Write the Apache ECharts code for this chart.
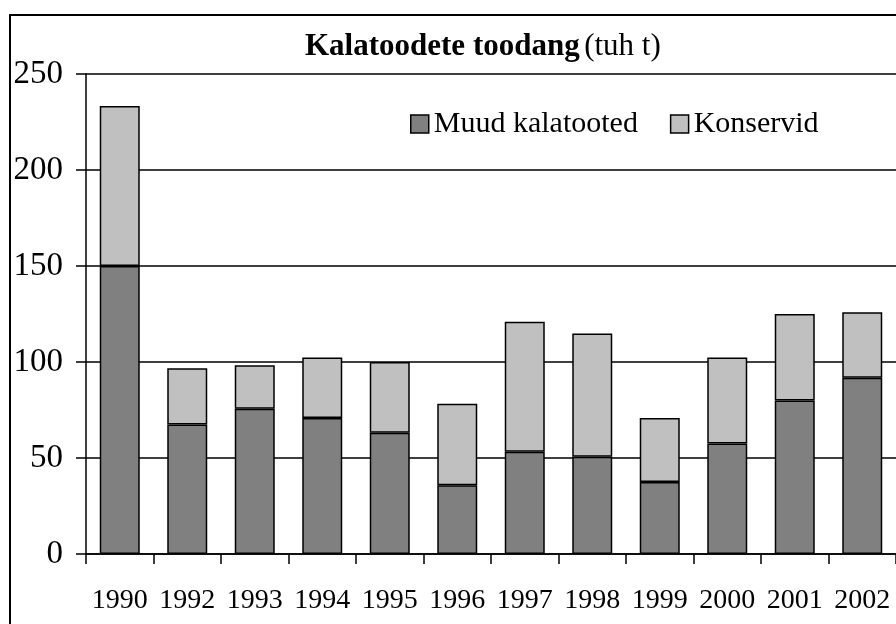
<!DOCTYPE html>
<html>
<head>
<meta charset="utf-8">
<script src="https://cdn.jsdelivr.net/npm/echarts@6/dist/echarts.min.js"></script>
<style>
  html, body { margin: 0; padding: 0; background: #fff; }
  #chart { width: 896px; height: 624px; }
</style>
</head>
<body>
<div id="chart"></div>
<script>
// andmed (tuh t)
var years = ["1990", "1992", "1993", "1994", "1995", "1996", "1997", "1998", "1999", "2000", "2001", "2002"];
var muudKalatooted = [150, 67.5, 75.7, 70.8, 63.2, 35.8, 53.3, 50.7, 37.5, 57.6, 80, 91.8];
var konservid = [83.3, 29.2, 22.6, 31.6, 36.8, 42.5, 67.7, 64.2, 33.3, 44.8, 45, 34.1];
var yTicks = { min: 0, max: 250, interval: 50 };

var font = "'Liberation Serif', 'Times New Roman', serif";

var option = {
  animation: false,
  backgroundColor: "#fff",
  textStyle: { fontFamily: font, color: "#000" },
  graphic: [
    {
      type: "rect",
      shape: { x: 10, y: 15, width: 1000, height: 1000 },
      style: { fill: "none", stroke: "#000", lineWidth: 2 },
      z: 100
    }
  ],
  title: {
    left: 300,
    top: 26,
    text: "{b|Kalatoodete toodang} {n|(tuh t)}",
    textStyle: {
      fontWeight: "normal",
      rich: {
        b: { fontFamily: font, fontWeight: "bold", fontSize: 31, color: "#000" },
        n: { fontFamily: font, fontWeight: "normal", fontSize: 31, color: "#000" }
      }
    }
  },
  legend: {
    left: 405,
    top: 104,
    icon: "rect",
    itemWidth: 18,
    itemHeight: 18,
    itemGap: 32,
    textStyle: { fontFamily: font, fontSize: 30, color: "#000" },
    itemStyle: { borderColor: "#000", borderWidth: 1.5 }
  },
  grid: {
    left: 86,
    right: 0,
    top: 74,
    bottom: 70
  },
  xAxis: {
    type: "category",
    data: years,
    axisLine: { lineStyle: { color: "#000", width: 1.5 } },
    axisTick: { show: true, length: 10, lineStyle: { color: "#000", width: 1.5 } },
    axisLabel: { fontFamily: font, fontSize: 28, color: "#000", margin: 33, interval: 0 },
    splitLine: { show: false }
  },
  yAxis: {
    type: "value",
    min: yTicks.min,
    max: yTicks.max,
    interval: yTicks.interval,
    axisLine: { show: true, lineStyle: { color: "#000", width: 1.5 } },
    axisTick: { show: true, length: 10, lineStyle: { color: "#000", width: 1.5 } },
    axisLabel: { fontFamily: font, fontSize: 33, color: "#000", margin: 23 },
    splitLine: { show: true, lineStyle: { color: "#000", width: 1.5 } }
  },
  series: [
    {
      name: "Muud kalatooted",
      type: "bar",
      stack: "kokku",
      barWidth: 40,
      data: muudKalatooted,
      itemStyle: { color: "#808080", borderColor: "#000", borderWidth: 1.5 }
    },
    {
      name: "Konservid",
      type: "bar",
      stack: "kokku",
      barWidth: 40,
      data: konservid,
      itemStyle: { color: "#c0c0c0", borderColor: "#000", borderWidth: 1.5 }
    }
  ]
};

var myChart = echarts.init(document.getElementById("chart"));
myChart.setOption(option);
</script>
</body>
</html>
